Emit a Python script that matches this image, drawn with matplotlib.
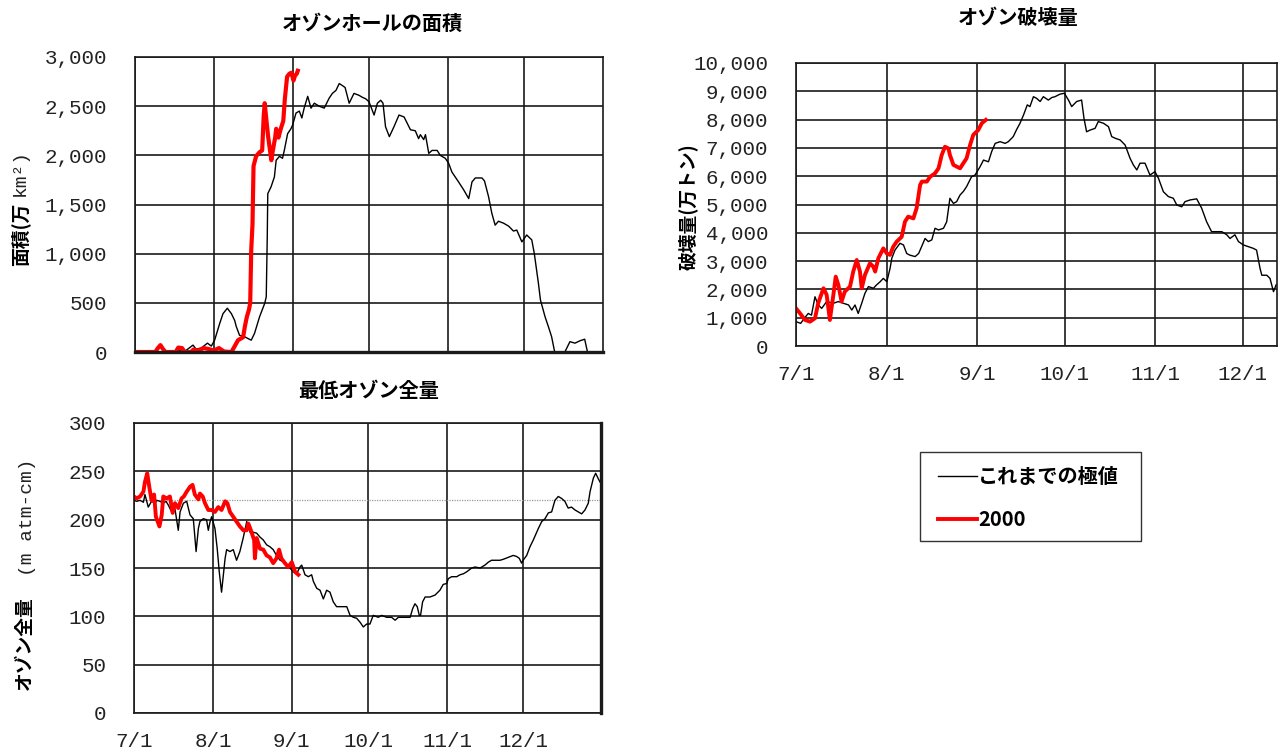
import matplotlib
matplotlib.use("Agg")
import matplotlib.pyplot as plt
from matplotlib.patches import Rectangle

W, H = 1285, 756

# Days are counted from July 1
month_days = [0, 31, 62, 92, 123, 153]
month_labels = ["7/1", "8/1", "9/1", "10/1", "11/1", "12/1"]

# Ozone hole area (10^4 km^2): record values up to last year
area_record_day = [0, 14, 15, 18, 20, 22.8, 24, 26, 28.5, 30, 31.3, 33.3, 34.6, 36.3, 37.9,
                   39.2, 39.8, 41.1, 43.1, 45.7, 47, 49, 51, 51.6, 52, 52.2, 53.5, 54.8, 55.5,
                   56.8, 58, 58.7, 60, 61.3, 62, 63.3, 64.6, 65.6, 66.5, 67.9, 69.2, 70.5, 72.4,
                   74.4, 76.3, 77.6, 79, 80.3, 81.5, 82.6, 84.2, 86.1, 88.1, 89.4, 90.7, 92, 94,
                   95.3, 96.6, 97.5, 98.5, 100, 101.8, 103.8, 105.8, 108.3, 110.2, 111.5, 112.2,
                   113.5, 114.2, 115.5, 116.8, 118.8, 120, 122, 123.3, 124.6, 127.2, 129.2, 131.2,
                   132.5, 133.8, 136.4, 137.4, 139, 140.3, 141.6, 142.9, 144.9, 146.9, 148.8,
                   150.1, 152.1, 154, 156, 157, 158.6, 159.4, 161.2, 162.5, 163.8, 165, 169, 171,
                   173, 175, 176.8, 177.9]
area_record_val = [0, 0, 10, 20, 15, 70, 30, 40, 90, 60, 120, 290, 390, 445, 390,
                   320, 260, 170, 155, 120, 190, 360, 495, 560, 1170, 1610, 1680, 1780, 1950,
                   1990, 1970, 2050, 2220, 2270, 2310, 2430, 2450, 2380, 2480, 2600, 2480, 2530, 2500,
                   2480, 2580, 2630, 2660, 2730, 2710, 2690, 2530, 2630, 2610, 2590, 2575, 2545, 2410,
                   2530, 2560, 2530, 2290, 2190, 2290, 2410, 2390, 2260, 2250, 2170, 2210,
                   2160, 2210, 2020, 2050, 2050, 2000, 1970, 1920, 1830, 1730, 1650, 1560,
                   1730, 1770, 1770, 1740, 1580, 1410, 1290, 1330, 1310, 1280, 1230,
                   1240, 1120, 1190, 1140, 1000, 700, 530, 360, 260, 155, 0, 0, 105,
                   90, 115, 130, 0]

# Ozone hole area (10^4 km^2): 2000
area_2000_day = [0, 8, 9, 10, 11, 12, 16, 17, 18.5, 19.5, 22, 23, 25, 27, 29, 31, 33, 35, 37.9,
                 39, 40.5, 42.5, 43.2, 44, 44.8, 45.3, 45.7, 46.2, 46.6, 47.6, 48.9, 50, 50.6,
                 51, 51.5, 52.3, 53.6, 54.2, 55.1, 55.5, 56.4, 57.2, 58.3, 58.9, 59.8, 60.7,
                 61.5, 62.3, 62.9, 63.6, 64]
area_2000_val = [0, 0, 40, 70, 30, 0, 0, 45, 40, 0, 0, 25, 15, 40, 30, 15, 40, 5, 0,
                 50, 120, 150, 260, 360, 430, 500, 1040, 1300, 1890, 1990, 2030, 2050, 2400,
                 2530, 2400, 2200, 1950, 2050, 2180, 2270, 2180, 2260, 2350, 2570, 2800, 2830,
                 2840, 2760, 2810, 2830, 2860]

# Ozone destruction (10^4 t): record values
dest_record_day = [0, 1.6, 3, 4.2, 5.3, 6.5, 7.6, 8.8, 10.5, 12.8, 14.5, 16.2, 18, 19.1, 20.2,
                   21.3, 22.5, 23.6, 24.8, 26.5, 27.6, 28.8, 29.9, 31.1, 32.2, 32.8, 33.9, 35.6,
                   36.8, 37.9, 39, 40.8, 42, 43, 44.2, 45.3, 46.5, 47.6, 48.8, 50.5, 51.6, 52.7,
                   53.9, 55, 56.2, 57.3, 58.4, 60.1, 61.3, 63, 64.2, 65.9, 67, 68.2, 69.9, 71.6,
                   72.7, 74.4, 75.5, 76.7, 77.9, 79.2, 80.1, 81.3, 82.4, 83.6, 84.7, 86.4, 87.6,
                   88.7, 90.4, 91.9, 93.3, 94.4, 96.1, 97.8, 98.6, 99.5, 100.7, 102.4, 103.5,
                   105.3, 107, 108.1, 109.3, 111, 112.7, 114.4, 115.5, 116.7, 117.8, 119.5,
                   121.2, 122.9, 124.1, 125.8, 127.5, 129.2, 130.4, 132.1, 133.2, 134.9, 137.2,
                   138.9, 140.6, 142.3, 144, 145.8, 147.5, 148.6, 150.3, 151.5, 153.2, 154.9,
                   156.6, 157.7, 158.9, 159.5, 161.2, 162.3, 163.5, 164.4]
dest_record_val = [860, 800, 1000, 1150, 1090, 1740, 1450, 1330, 1570, 1510, 1570, 1510, 1450,
                   1270, 1450, 1150, 1510, 1860, 2100, 2040, 2160, 2270, 2390, 2270, 2740, 3100,
                   3390, 3630, 3570, 3270, 3210, 3160, 3270, 3510, 3800, 3690, 3750, 4160, 4100,
                   4160, 4390, 5220, 5040, 5100, 5340, 5460, 5630, 5980, 6040, 6330, 6570, 6510,
                   6870, 7160, 7220, 7160, 7220, 7400, 7640, 7870, 8160, 8520, 8460, 8810, 8750,
                   8640, 8810, 8690, 8780, 8810, 8900, 8930, 8690, 8460, 8640, 8690, 8050, 7570,
                   7630, 7690, 7930, 7870, 7750, 7400, 7340, 7280, 7100, 6630, 6400, 6220, 6460,
                   6460, 6040, 6160, 5930, 5450, 5280, 5220, 4980, 4920, 5100, 5160, 5200, 4870,
                   4390, 4040, 4040, 4040, 3930, 3800, 3930, 3690, 3570, 3510, 3450, 3390, 2740,
                   2500, 2500, 2390, 1920, 2160]

# Ozone destruction (10^4 t): 2000
dest_2000_day = [0, 1.4, 3.1, 4.8, 6.5, 7.6, 9.4, 10.5, 11.6, 12.8, 13.6, 14.5, 15.6, 16.7,
                 18.5, 19.6, 20.8, 21.9, 22.5, 23.6, 25.3, 26.5, 27.1, 28.2, 29.9, 31.1, 32.2,
                 33.3, 34.5, 36.2, 37.3, 38.4, 40.2, 41.3, 42.5, 43.1, 44.8, 45.9, 47.6, 48.8,
                 49.9, 51, 52.2, 52.7, 53.9, 55, 56.2, 57.3, 58.4, 59.6, 60.7, 62.4, 63.6, 65]
dest_2000_val = [1330, 1150, 920, 860, 980, 1510, 2040, 1810, 920, 1810, 2450, 2160, 1570, 1920,
                 2100, 2630, 3040, 2630, 2040, 2510, 2920, 2800, 2630, 3100, 3450, 3270, 3220,
                 3510, 3690, 3860, 4390, 4570, 4510, 4870, 5690, 5810, 5810, 5980, 6100, 6280,
                 6750, 7040, 6980, 6750, 6400, 6340, 6280, 6460, 6630, 7100, 7460, 7630, 7870, 7990]

# Minimum total ozone (m atm-cm): record values
ozone_record_day = [0, 1.05, 2.4, 3.7, 4.3, 5.6, 6.9, 8.3, 8.9, 10.2, 11.5, 12.6, 13.5, 14.8,
                    16.1, 17.4, 18.1, 19.4, 20.7, 22, 23.3, 24.4, 25.3, 25.9, 27.2, 28.5, 29.2,
                    29.9, 30.5, 31.8, 32.7, 33.5, 34.4, 35.1, 35.8, 36.4, 37.7, 39, 40.3, 41.6,
                    42.9, 44.3, 44.9, 45.6, 46.9, 48.2, 49.5, 50.8, 52.1, 53.4, 54.7, 56, 57.4,
                    59.3, 61.3, 62.6, 63.9, 65.2, 65.9, 67.2, 68.5, 69.8, 70.5, 71.8, 73.1, 74.4,
                    75.7, 77, 78.3, 79.6, 81.6, 83.6, 84.9, 86.2, 87.5, 88.8, 90.1, 91.4, 92.7,
                    94, 96, 97.3, 99.3, 101.2, 102.6, 103.9, 105.8, 108.5, 109.5, 110.4, 111.3,
                    112.1, 112.6, 113.4, 114.4, 116.3, 118.3, 120.2, 121.5, 122.9, 123.5, 124.8,
                    126.8, 128.1, 129.4, 130.7, 132.7, 134, 136, 137.9, 139.2, 140.5, 142.5,
                    143.8, 145.1, 147, 149, 150.3, 151.4, 152.3, 152.9, 154.3, 155.6, 156.9,
                    158.9, 160.2, 161.5, 162.8, 164.1, 165.4, 166.7, 168, 169.3, 170.6, 171.9,
                    173.3, 174.6, 175.9, 177.2, 178.5, 179.2, 180.5, 181.4, 182.5, 183.1]
ozone_record_val = [220, 219, 220, 218, 226, 213, 219, 217, 220, 219, 217, 219, 215, 208,
                    211, 189, 208, 217, 219, 205, 201, 167, 191, 198, 201, 200, 189,
                    198, 203, 191, 170, 146, 125, 143, 160, 169, 167, 169, 158, 167,
                    181, 198, 194, 187, 187, 186, 182, 179, 174, 172, 169, 163, 158,
                    156, 150, 146, 144, 151, 153, 143, 141, 143, 136, 129, 127, 118,
                    127, 125, 115, 110, 110, 110, 101, 99, 98, 94, 89, 92, 92,
                    101, 99, 101, 99, 99, 96, 99, 99, 99, 108, 113, 110,
                    101, 101, 115, 120, 120, 122, 127, 133, 134, 139, 141,
                    141, 143, 144, 146, 150, 151, 150, 153, 156, 158, 158,
                    158, 159, 161, 163, 162, 160, 155, 158, 163, 172, 179,
                    191, 198, 201, 207, 208, 220, 224, 222, 219, 212, 213,
                    210, 208, 206, 210, 217, 229, 243, 248, 242, 239]

# Minimum total ozone (m atm-cm): 2000
ozone_2000_day = [0, 1, 2.4, 3.7, 4.3, 5.2, 6, 6.9, 7.9, 8.6, 10, 10.9, 11.5, 12.8, 14.1, 15.2,
                  16.1, 17.4, 18.7, 19.6, 20.7, 22, 23, 23.9, 25.3, 25.9, 27, 27.9, 29.2, 30.5,
                  31.8, 33.1, 34.4, 35.8, 36.7, 37.7, 39, 40.3, 41.6, 43, 44.3, 44.9, 45.8, 47.2,
                  47.5, 48.2, 49.5, 50.8, 52.1, 53.4, 54.7, 56, 57, 57.9, 59.3, 60.6, 62, 63.3, 64.6]
ozone_2000_val = [224, 222, 224, 229, 239, 248, 234, 220, 226, 203, 193, 205, 224, 222, 224, 207,
                  217, 212, 222, 224, 229, 234, 236, 226, 221, 227, 224, 217, 210, 210,
                  208, 213, 210, 219, 217, 208, 203, 198, 193, 189, 189, 196, 190, 179,
                  160, 181, 170, 169, 163, 161, 155, 160, 169, 160, 155, 151, 156, 146, 143]

ozone_reference_level = 220

TICK_FONT = "Liberation Mono"
JP_FONT = ["Noto Sans CJK JP", "DejaVu Sans"]
RECORD_COLOR = "black"
Y2000_COLOR = "#ff0000"

fig = plt.figure(figsize=(W / 100, H / 100), dpi=100, facecolor="white")


def px_axes(left, top, right, bottom):
    return fig.add_axes([left / W, 1 - bottom / H, (right - left) / W, (bottom - top) / H])


def fx(x):
    return x / W


def fy(y):
    return 1 - y / H


def style_axes(ax, xmax, ymax, ystep, show_xlabels):
    ax.set_xlim(0, xmax)
    ax.set_ylim(0, ymax)
    ax.set_xticks(month_days)
    ax.set_xticklabels(month_labels if show_xlabels else [])
    yt = list(range(0, ymax + 1, ystep))
    ax.set_yticks(yt)
    ax.set_yticklabels([f"{v:,}" for v in yt])
    ax.set_axisbelow(True)
    ax.grid(True, color="#1a1a1a", linewidth=1.2)
    ax.tick_params(axis="both", length=0, labelsize=15, labelcolor="#222222")
    ax.tick_params(axis="y", pad=20)
    ax.tick_params(axis="x", pad=14)
    for lab in ax.get_xticklabels() + ax.get_yticklabels():
        lab.set_fontfamily(TICK_FONT)
    for sp in ax.spines.values():
        sp.set_color("#1a1a1a")
        sp.set_linewidth(1.2)


# Ozone hole area
ax1 = px_axes(135, 57, 603, 352)
style_axes(ax1, 184, 3000, 500, False)
ax1.plot(area_record_day, area_record_val, color=RECORD_COLOR, lw=1.0)
ax1.plot(area_2000_day, area_2000_val, color=Y2000_COLOR, lw=3.0, solid_joinstyle="round")
ax1.spines["bottom"].set_linewidth(2.4)

# Ozone destruction
ax2 = px_axes(796, 63, 1277, 346)
style_axes(ax2, 164.7, 10000, 1000, True)
rec_line, = ax2.plot(dest_record_day, dest_record_val, color=RECORD_COLOR, lw=1.0)
y2k_line, = ax2.plot(dest_2000_day, dest_2000_val, color=Y2000_COLOR, lw=2.8,
                     solid_joinstyle="round")

# Minimum total ozone
ax3 = px_axes(134, 423, 601, 713)
style_axes(ax3, 183.5, 300, 50, True)
ax3.axhline(ozone_reference_level, color="#9a9a9a", lw=0.9, ls=(0, (1, 1)))
ax3.plot(ozone_record_day, ozone_record_val, color=RECORD_COLOR, lw=1.0)
ax3.plot(ozone_2000_day, ozone_2000_val, color=Y2000_COLOR, lw=2.8, solid_joinstyle="round")
ax3.spines["right"].set_linewidth(2.4)

# Titles
title_kw = dict(family=JP_FONT, fontweight="bold", fontsize=14.5, ha="center", va="center",
                color="black")
fig.text(fx(372), fy(23), "オゾンホールの面積", **title_kw)
fig.text(fx(1018), fy(18), "オゾン破壊量", **title_kw)
fig.text(fx(369), fy(390), "最低オゾン全量", **title_kw)

# Axis labels
lab_kw = dict(family=JP_FONT, fontweight="bold", fontsize=13.5, rotation=90, ha="center",
              color="black")
fig.text(fx(20), fy(266), "面積(万", va="bottom", **lab_kw)
fig.text(fx(20), fy(196), "km²)", va="bottom", family=TICK_FONT, fontsize=14, rotation=90,
         ha="center", color="#222222")
fig.text(fx(688), fy(207), "破壊量(万トン)", va="center", **lab_kw)
fig.text(fx(24), fy(690), "オゾン全量", va="bottom", **lab_kw)
fig.text(fx(27), fy(576), "(m atm-cm)", va="bottom", family=TICK_FONT, fontsize=14,
         rotation=90, ha="center", color="#222222")

# Legend: frame drawn as a figure rectangle, entries placed inside it
fig.patches.append(Rectangle((fx(920), fy(541)), (1141 - 920) / W, (541 - 452) / H,
                             transform=fig.transFigure, facecolor="white",
                             edgecolor="#333333", linewidth=1.0, zorder=0))
leg = fig.legend([rec_line, y2k_line], ["これまでの極値", "2000"],
                 loc="upper left", bbox_to_anchor=(fx(938), fy(466)),
                 prop={"family": JP_FONT, "weight": "bold", "size": 14.5},
                 frameon=False, borderpad=0, borderaxespad=0,
                 handlelength=1.95, handletextpad=0.05, labelspacing=1.1)

fig.savefig("out.png", dpi=100, facecolor="white")
